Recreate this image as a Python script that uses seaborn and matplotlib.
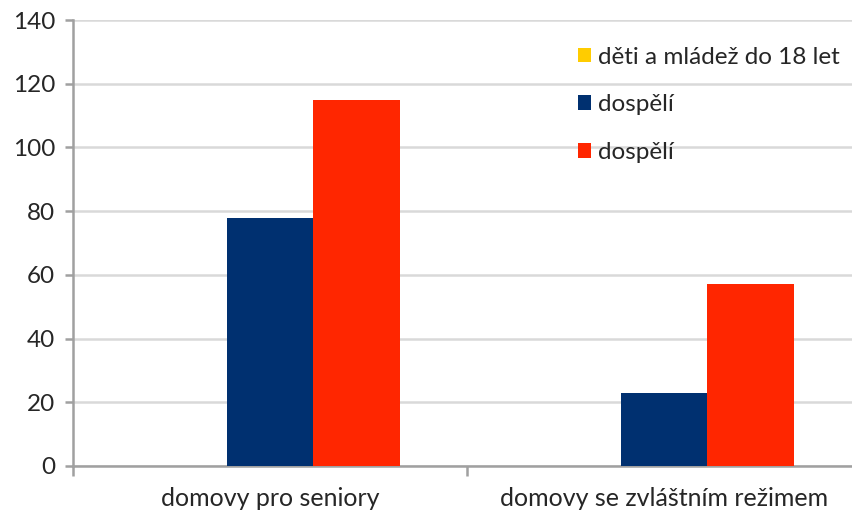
import pandas as pd
import matplotlib.pyplot as plt
import seaborn as sns
from matplotlib.patches import Patch

# data
categories = ['domovy pro seniory', 'domovy se zvláštním režimem']
series_keys = ['deti', 'dospeli_1', 'dospeli_2']
series_labels = ['děti a mládež do 18 let', 'dospělí', 'dospělí']
series_colors = ['#ffcc00', '#003070', '#ff2600']
deti = [0, 0]
dospeli_1 = [78, 23]
dospeli_2 = [115, 57]
y_ticks = [0, 20, 40, 60, 80, 100, 120, 140]

rows = []
for key, values in zip(series_keys, [deti, dospeli_1, dospeli_2]):
    for cat, v in zip(categories, values):
        rows.append({'kategorie': cat, 'serie': key, 'hodnota': v})
df = pd.DataFrame(rows)

sns.set_style('white')
plt.rcParams['font.family'] = ['Lato', 'DejaVu Sans']

fig = plt.figure(figsize=(8.53, 5.12), dpi=100)
ax = fig.add_axes([73 / 853, 46 / 512, 788 / 853, 446 / 512])

sns.barplot(data=df, x='kategorie', y='hodnota', hue='serie', order=categories,
            hue_order=series_keys, palette=series_colors, width=0.66,
            saturation=1, ax=ax, legend=False, linewidth=0, zorder=3)

ax.set_xlim(-0.5, 1.5)
ax.set_ylim(0, 140)
ax.set_yticks(y_ticks)
ax.set_xlabel('')
ax.set_ylabel('')
ax.yaxis.grid(True, color='#d9d9d9', linewidth=1.8, zorder=0)
ax.set_axisbelow(True)

for side in ['top', 'right']:
    ax.spines[side].set_visible(False)
for side in ['left', 'bottom']:
    ax.spines[side].set_color('#a0a0a0')
    ax.spines[side].set_linewidth(1.8)

ax.tick_params(axis='y', which='major', direction='out', length=6, width=1.8,
               color='#a0a0a0', labelsize=17.5, pad=7, left=True)
ax.tick_params(axis='x', which='major', length=0, labelsize=18, pad=15)
ax.set_xticks([-0.5, 0.5, 1.5], minor=True)
ax.tick_params(axis='x', which='minor', direction='out', length=7, width=1.8,
               color='#a0a0a0', bottom=True)

handles = [Patch(facecolor=c, edgecolor='none') for c in series_colors]
ax.legend(handles, series_labels, loc='upper left', bbox_to_anchor=(0.628, 0.962),
          frameon=False, fontsize=17.5, handlelength=0.56, handleheight=0.56,
          handletextpad=0.28, labelspacing=1.1, borderaxespad=0)

fig.savefig('out.png', dpi=100)
